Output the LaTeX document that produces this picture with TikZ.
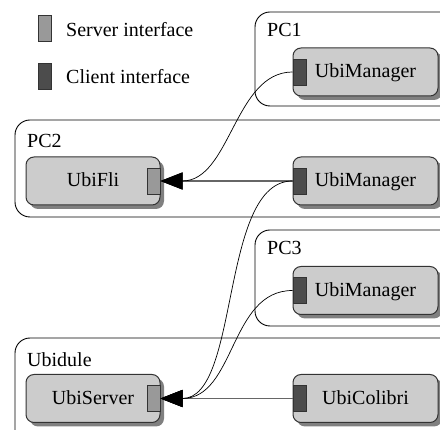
\documentclass[tikz,border=0pt]{standalone}
\usepackage{fontspec}
\setmainfont{Liberation Serif}
\usetikzlibrary{arrows.meta,shadows}

\begin{document}
\begin{tikzpicture}[
    x=1pt, y=-1pt,
    font=\fontsize{20}{24}\selectfont,
    frame/.style={draw=black, line width=0.9pt, rounded corners=15pt},
    comp/.style={rectangle, draw=black!80, fill=black!20, line width=1pt,
                 rounded corners=8pt, minimum height=48pt,
                 text height=14pt, text depth=2pt,
                 drop shadow={shadow xshift=4pt, shadow yshift=-4pt,
                              fill=black!50, opacity=1}},
    srv/.style={rectangle, draw=black!80, fill=black!40, line width=0.8pt,
                minimum width=13pt, minimum height=26pt, inner sep=0pt},
    cli/.style={srv, fill=black!70},
    tag/.style={anchor=base west, inner sep=0pt},
    link/.style={draw=black!60, line width=1.2pt,
                 -{Triangle[length=22pt, width=17pt, color=black]}},
    curvy/.style={draw=black, line width=0.7pt,
                 -{Triangle[length=22pt, width=17pt, color=black]}},
]
\clip (0,0) rectangle (440,430);

% legend
\node[srv] (legsrv) at (45,28) {};
\node[tag] (legsrvtxt) at (66,36.7) {Server interface};
\node[cli] (legcli) at (45,76.5) {};
\node[tag] (legclitxt) at (66,84) {Client interface};

% hosts
\draw[frame] (255,12) rectangle (460,106);
\node[tag] (pc1) at (267,37) {PC1};
\draw[frame] (15,120) rectangle (460,217);
\node[tag] (pc2) at (27,148) {PC2};
\draw[frame] (255,230) rectangle (460,326);
\node[tag] (pc3) at (267,255) {PC3};
\draw[frame] (15,338) rectangle (460,460);
\node[tag] (ubidule) at (27,366.5) {Ubidule};

% components
\node[comp, minimum width=145pt] (mgrA) at (365.5,72) {UbiManager};
\node[comp, minimum width=134pt] (fli) at (93,181) {UbiFli};
\node[comp, minimum width=145pt] (mgrB) at (365.5,181) {UbiManager};
\node[comp, minimum width=145pt] (mgrC) at (365.5,290.5) {UbiManager};
\node[comp, minimum width=134pt] (server) at (93,398.5) {UbiServer};
\node[comp, minimum width=145pt] (colibri) at (365.5,398.5) {UbiColibri};

% interfaces
\node[srv, anchor=east] (fliS) at (fli.east) {};
\node[srv, anchor=east] (serverS) at (server.east) {};
\node[cli, anchor=west] (mgrAc) at (mgrA.west) {};
\node[cli, anchor=west] (mgrBc) at (mgrB.west) {};
\node[cli, anchor=west] (mgrCc) at (mgrC.west) {};
\node[cli, anchor=west] (colibric) at (colibri.west) {};

% bindings
\draw[link] (mgrBc.west) -- (fliS.east);
\draw[link] (colibric.west) -- (serverS.east);
\draw[curvy] (mgrAc.west) .. controls +(-58,0) and +(70,0) .. (fliS.east);
\draw[curvy] (mgrBc.west) .. controls +(-73,0) and +(80,0) .. (serverS.east);
\draw[curvy] (mgrCc.west) .. controls +(-63,0) and +(75,0) .. (serverS.east);

\end{tikzpicture}
\end{document}
